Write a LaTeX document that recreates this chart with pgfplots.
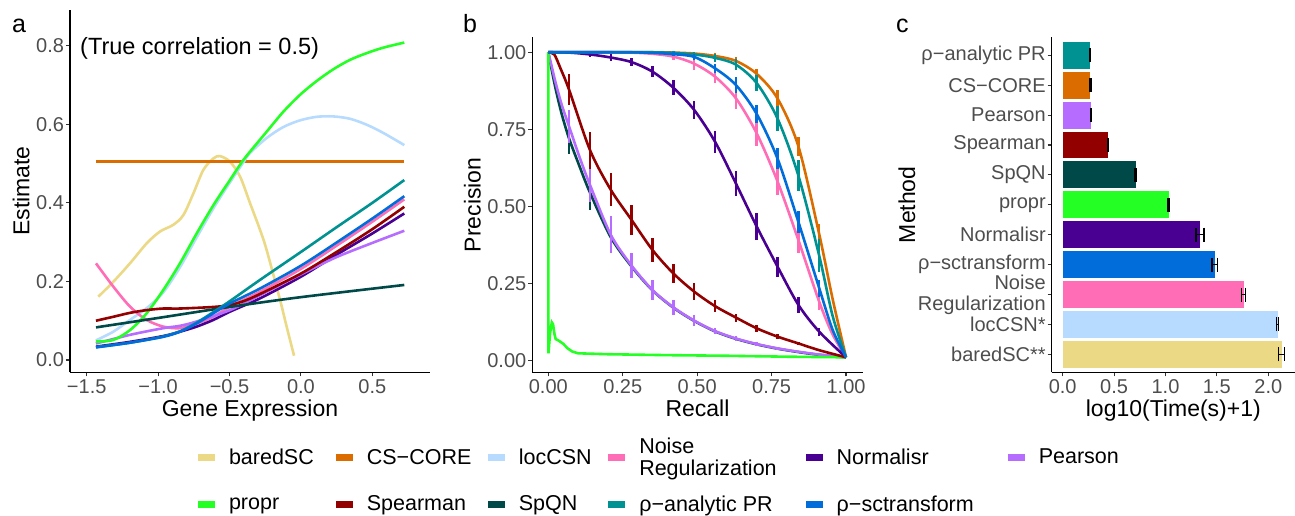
\documentclass[border=0pt]{standalone}
\usepackage{fontspec}
\setmainfont{Liberation Sans}
\usepackage{pgfplots}
\pgfplotsset{compat=1.18}
\usepackage{pgfplotstable}

\definecolor{cbared}{HTML}{EBD985}
\definecolor{ccscore}{HTML}{DB6D00}
\definecolor{cloccsn}{HTML}{B6DBFF}
\definecolor{cnoise}{HTML}{FF6DB6}
\definecolor{cnorm}{HTML}{490092}
\definecolor{cpearson}{HTML}{B66DFF}
\definecolor{cpropr}{HTML}{24FF24}
\definecolor{cspear}{HTML}{920000}
\definecolor{cspqn}{HTML}{004949}
\definecolor{canal}{HTML}{009292}
\definecolor{csct}{HTML}{006DDB}
\definecolor{tickgray}{HTML}{4D4D4D}

\newcommand\tickfont{\fontsize{20bp}{21.3bp}\selectfont}
\newcommand\titlefont{\fontsize{23bp}{27bp}\selectfont}
\newcommand\letfont{\fontsize{25bp}{30bp}\selectfont}
\newcommand\legfont{\fontsize{21.5bp}{21.5bp}\selectfont}
\newcommand\annfont{\fontsize{23.5bp}{28bp}\selectfont}

\pgfplotsset{
  gg/.style={scale only axis, axis lines*=left,
    axis line style={-, line width=1.1bp, black},
    tick align=outside, major tick length=4bp,
    tick style={line width=1.1bp, color=black!80},
    ticklabel style={font=\tickfont, text=tickgray},
    yticklabel style={xshift=1.5bp},
    every axis plot/.append style={line width=2.6bp}},
  eb/.style={/pgfplots/error bars/y dir=both, /pgfplots/error bars/y explicit,
    /pgfplots/error bars/error mark=none,
    /pgfplots/error bars/error bar style={line width=2.5bp}},
  ebx/.style={/pgfplots/error bars/x dir=both, /pgfplots/error bars/x explicit,
    /pgfplots/error bars/error mark=|,
    /pgfplots/error bars/error bar style={draw=black, line width=1.4bp},
    /pgfplots/error bars/error mark options={draw=black, line width=1.4bp, mark size=7bp}},
}

\begin{document}
\begin{tikzpicture}
\path[use as bounding box] (0,0) rectangle (1295bp,516bp);

% ---------------- panel a ----------------
\begin{axis}[gg, at={(70bp,143.7bp)}, anchor=south west,
  width=360bp, height=362.3bp,
  xmin=-1.617, xmax=0.904, ymin=-0.0313, ymax=0.8909,
  xtick={-1.5,-1,-0.5,0,0.5}, xticklabels={−1.5,−1.0,−0.5,0.0,0.5},
  ytick={0,0.2,0.4,0.6,0.8}, yticklabels={0.0,0.2,0.4,0.6,0.8}]
\addplot[cbared, smooth] table {
-1.419 0.161
-1.314 0.199
-1.197 0.246
-1.08 0.297
-0.987 0.327
-0.894 0.344
-0.823 0.369
-0.753 0.424
-0.683 0.484
-0.613 0.513
-0.567 0.519
-0.497 0.505
-0.426 0.467
-0.356 0.399
-0.286 0.331
-0.24 0.280
-0.146 0.153
-0.1 0.085
-0.048 0.011
};
\addplot[ccscore] table {
-1.435 0.506
0.724 0.506
};
\addplot[cloccsn, smooth] table {
-1.435 0.05
-1.314 0.072
-1.197 0.102
-1.08 0.132
-0.964 0.172
-0.847 0.236
-0.730 0.312
-0.613 0.386
-0.497 0.452
-0.403 0.503
-0.356 0.527
-0.24 0.565
-0.123 0.593
-0.006 0.610
0.110 0.619
0.227 0.620
0.344 0.614
0.460 0.599
0.577 0.578
0.724 0.547
};
\addplot[cnoise, smooth] table {
-1.435 0.246
-1.314 0.187
-1.197 0.136
-1.08 0.102
-0.964 0.085
-0.847 0.081
-0.730 0.093
-0.613 0.110
-0.497 0.136
-0.286 0.174
0 0.232
0.25 0.291
0.5 0.352
0.724 0.409
};
\addplot[cnorm, smooth] table {
-1.435 0.034
-1.2 0.046
-0.964 0.061
-0.847 0.072
-0.73 0.085
-0.613 0.102
-0.497 0.123
-0.286 0.157
0 0.212
0.25 0.268
0.5 0.322
0.724 0.373
};
\addplot[cpearson, smooth] table {
-1.435 0.042
-1.197 0.064
-0.964 0.081
-0.847 0.087
-0.73 0.098
-0.497 0.127
-0.286 0.165
0 0.218
0.25 0.262
0.5 0.298
0.724 0.329
};
\addplot[cpropr, smooth] table {
-1.435 0.047
-1.314 0.051
-1.197 0.076
-1.08 0.119
-0.964 0.178
-0.847 0.246
-0.730 0.322
-0.613 0.394
-0.497 0.458
-0.403 0.509
-0.286 0.561
-0.24 0.581
-0.123 0.632
-0.006 0.675
0.110 0.710
0.227 0.740
0.344 0.764
0.460 0.781
0.577 0.795
0.724 0.808
};
\addplot[cspear, smooth] table {
-1.435 0.1
-1.314 0.110
-1.197 0.120
-1.08 0.127
-0.964 0.131
-0.847 0.131
-0.613 0.135
-0.497 0.140
-0.4 0.150
-0.286 0.168
0 0.22
0.25 0.275
0.5 0.333
0.724 0.390
};
\addplot[cspqn, smooth] table {
-1.435 0.083
-1.0 0.107
-0.5 0.135
0 0.160
0.724 0.191
};
\addplot[canal, smooth] table {
-1.435 0.033
-1.197 0.044
-0.964 0.060
-0.847 0.073
-0.73 0.095
-0.613 0.122
-0.497 0.150
-0.286 0.204
0 0.275
0.25 0.338
0.5 0.40
0.724 0.458
};
\addplot[csct, smooth] table {
-1.435 0.032
-1.197 0.044
-0.964 0.059
-0.847 0.072
-0.73 0.093
-0.613 0.119
-0.497 0.144
-0.286 0.182
0 0.24
0.25 0.299
0.5 0.36
0.724 0.417
};
\end{axis}

% ---------------- panel b ----------------
\begin{axis}[gg, at={(532.3bp,143.7bp)}, anchor=south west,
  width=330.4bp, height=335bp,
  xmin=-0.0537, xmax=1.056, ymin=-0.0376, ymax=1.0486,
  xtick={0,0.25,0.5,0.75,1}, xticklabels={0.00,0.25,0.50,0.75,1.00},
  ytick={0,0.25,0.5,0.75,1}, yticklabels={0.00,0.25,0.50,0.75,1.00}]
\addplot[ccscore, smooth, eb] table[x=x,y=y,y error=e] {
x y e
0 1 0
0.07 1 0
0.14 1 0
0.21 1 0
0.28 1 0
0.35 1 0
0.42 0.999 0
0.49 0.996 0.006
0.56 0.988 0.01
0.63 0.972 0.012
0.70 0.93 0.015
0.77 0.85 0.028
0.84 0.695 0.03
0.91 0.41 0.032
0.955 0.20 0
1.0 0.011 0
};
\addplot[cnoise, smooth, eb] table[x=x,y=y,y error=e] {
x y e
0 1 0
0.07 1 0
0.14 1 0
0.21 1 0
0.28 0.999 0.003
0.35 0.995 0.005
0.42 0.986 0.01
0.49 0.963 0.02
0.56 0.921 0.022
0.63 0.851 0.035
0.70 0.737 0.04
0.77 0.581 0.043
0.84 0.391 0.043
0.91 0.191 0.027
0.955 0.085 0
1.0 0.011 0
};
\addplot[cnorm, smooth, eb] table[x=x,y=y,y error=e] {
x y e
0 1 0
0.07 0.999 0.003
0.14 0.993 0.008
0.21 0.983 0.01
0.28 0.968 0.013
0.35 0.937 0.018
0.42 0.885 0.025
0.49 0.813 0.03
0.56 0.71 0.036
0.63 0.575 0.04
0.70 0.435 0.043
0.77 0.305 0.032
0.84 0.181 0.025
0.91 0.094 0.013
1.0 0.011 0
};
\addplot[cspqn, smooth, eb] table[x=x,y=y,y error=e] {
x y e
0 1 0
0.01 0.95 0
0.025 0.88 0
0.045 0.80 0
0.07 0.72 0.05
0.105 0.63 0
0.14 0.545 0.055
0.21 0.40 0.02
0.28 0.305 0
0.35 0.228 0
0.42 0.172 0
0.49 0.129 0
0.56 0.095 0
0.63 0.071 0
0.70 0.053 0
0.77 0.039 0
0.84 0.028 0
0.91 0.019 0
1.0 0.011 0
};
\addplot[cpearson, smooth, eb] table[x=x,y=y,y error=e] {
x y e
0 1 0
0.01 0.96 0
0.025 0.9 0
0.045 0.83 0
0.07 0.759 0.054
0.105 0.66 0
0.14 0.57 0.054
0.21 0.408 0.06
0.28 0.308 0.04
0.35 0.229 0.032
0.42 0.173 0.024
0.49 0.13 0.019
0.56 0.096 0.011
0.63 0.072 0.008
0.70 0.054 0.006
0.77 0.04 0.004
0.84 0.029 0
0.91 0.02 0
1.0 0.011 0
};
\addplot[cpropr] table {
0 1
0.0005 0.024
0.006 0.09
0.012 0.124
0.016 0.118
0.021 0.085
0.025 0.07
0.035 0.065
0.05 0.055
0.065 0.04
0.08 0.03
0.1 0.024
0.2 0.021
0.4 0.018
0.6 0.016
0.8 0.013
1.0 0.011
};
\addplot[cspear, smooth, eb] table[x=x,y=y,y error=e] {
x y e
0 1 0
0.02 0.993 0
0.04 0.95 0
0.07 0.878 0.05
0.14 0.683 0.06
0.21 0.554 0.054
0.28 0.456 0.049
0.35 0.359 0.04
0.42 0.283 0.032
0.49 0.224 0.027
0.56 0.177 0.02
0.63 0.14 0.013
0.70 0.105 0.011
0.77 0.078 0.008
0.84 0.056 0.006
0.91 0.034 0.004
1.0 0.011 0
};
\addplot[canal, smooth, eb] table[x=x,y=y,y error=e] {
x y e
0 1 0
0.07 1 0
0.14 1 0
0.21 1 0
0.28 1 0
0.35 1 0
0.42 0.998 0.005
0.49 0.993 0.007
0.56 0.982 0.012
0.63 0.96 0.018
0.70 0.90 0.025
0.77 0.785 0.04
0.84 0.60 0.05
0.91 0.34 0.054
0.955 0.145 0
1.0 0.011 0
};
\addplot[csct, smooth, eb] table[x=x,y=y,y error=e] {
x y e
0 1 0
0.07 1 0
0.14 1 0
0.21 1 0
0.28 1 0
0.35 0.998 0.004
0.42 0.994 0.006
0.49 0.985 0.01
0.56 0.948 0.015
0.63 0.894 0.025
0.70 0.80 0.03
0.77 0.655 0.035
0.84 0.45 0.035
0.91 0.235 0.027
0.955 0.10 0
1.0 0.011 0
};
\end{axis}

% ---------------- panel c ----------------
\begin{axis}[gg, at={(1051.7bp,143.7bp)}, anchor=south west,
  width=243.3bp, height=335bp,
  xbar, bar width=0.9, bar shift=0pt,
  xmin=-0.107, xmax=2.26, ymin=0.4, ymax=11.6,
  xtick={0,0.5,1,1.5,2}, xticklabels={0.0,0.5,1.0,1.5,2.0},
  ytick={1,...,11},
  yticklabels={baredSC**,locCSN*,{Noise\\Regularization},ρ−sctransform,Normalisr,propr,SpQN,Spearman,Pearson,CS−CORE,ρ−analytic PR},
  yticklabel style={align=right}]
\addplot[draw=none, fill=cbared, ebx] coordinates {(2.13,1) +- (0.03,0)};
\addplot[draw=none, fill=cloccsn, ebx] coordinates {(2.09,2) +- (0.01,0)};
\addplot[draw=none, fill=cnoise, ebx] coordinates {(1.76,3) +- (0.02,0)};
\addplot[draw=none, fill=csct, ebx] coordinates {(1.478,4) +- (0.025,0)};
\addplot[draw=none, fill=cnorm, ebx] coordinates {(1.335,5) +- (0.04,0)};
\addplot[draw=none, fill=cpropr, ebx] coordinates {(1.03,6) +- (0.005,0)};
\addplot[draw=none, fill=cspqn, ebx] coordinates {(0.71,7) +- (0.008,0)};
\addplot[draw=none, fill=cspear, ebx] coordinates {(0.44,8) +- (0.005,0)};
\addplot[draw=none, fill=cpearson, ebx] coordinates {(0.276,9) +- (0.005,0)};
\addplot[draw=none, fill=ccscore, ebx] coordinates {(0.27,10) +- (0.005,0)};
\addplot[draw=none, fill=canal, ebx] coordinates {(0.266,11) +- (0.005,0)};
\end{axis}

% ---------------- legend ----------------
\begin{axis}[at={(0bp,0bp)}, anchor=south west, scale only axis,
  width=1295bp, height=516bp, xmin=0, xmax=1295, ymin=0, ymax=516,
  hide axis, legend columns=6, legend cell align=left,
  legend image code/.code={\fill[#1, draw=none] (0bp,-3.5bp) rectangle (17bp,3.5bp);},
  legend style={at={(198/1295,78/516)}, anchor=north west, draw=none, fill=none,
    inner sep=0pt, outer sep=0pt, row sep=19bp,
    nodes={font=\legfont, inner sep=0pt, align=left},
    /tikz/every odd column/.style={column sep=14bp},
    /tikz/column 2/.style={column sep=22bp},
    /tikz/column 4/.style={column sep=16.5bp},
    /tikz/column 6/.style={column sep=16.5bp},
    /tikz/column 8/.style={column sep=29bp},
    /tikz/column 10/.style={column sep=34bp}}]
\addlegendimage{fill=cbared}\addlegendentry{baredSC}
\addlegendimage{fill=ccscore}\addlegendentry{CS−CORE}
\addlegendimage{fill=cloccsn}\addlegendentry{locCSN}
\addlegendimage{fill=cnoise}\addlegendentry{Noise\\Regularization}
\addlegendimage{fill=cnorm}\addlegendentry{Normalisr}
\addlegendimage{fill=cpearson}\addlegendentry{Pearson}
\addlegendimage{fill=cpropr}\addlegendentry{propr}
\addlegendimage{fill=cspear}\addlegendentry{Spearman}
\addlegendimage{fill=cspqn}\addlegendentry{SpQN}
\addlegendimage{fill=canal}\addlegendentry{ρ−analytic PR}
\addlegendimage{fill=csct}\addlegendentry{ρ−sctransform}
\end{axis}

% ---------------- texts ----------------
\node[anchor=base west, font=\letfont, inner sep=0pt] at (12bp,483bp) {a};
\node[anchor=base west, font=\letfont, inner sep=0pt] at (463bp,483bp) {b};
\node[anchor=base west, font=\letfont, inner sep=0pt] at (896bp,483bp) {c};
\node[anchor=west, font=\annfont, inner sep=0pt] at (80bp,467.7bp) {(True correlation = 0.5)};
\node[rotate=90, anchor=base, font=\titlefont, inner sep=0pt] at (29.3bp,325bp) {Estimate};
\node[rotate=90, anchor=base, font=\titlefont, inner sep=0pt] at (480.7bp,311.2bp) {Precision};
\node[rotate=90, anchor=base, font=\titlefont, inner sep=0pt] at (915bp,311.2bp) {Method};
\node[anchor=base, font=\titlefont, inner sep=0pt] at (250bp,99.3bp) {Gene Expression};
\node[anchor=base, font=\titlefont, inner sep=0pt] at (697.5bp,99.3bp) {Recall};
\node[anchor=base, font=\titlefont, inner sep=0pt] at (1173.3bp,99.3bp) {log10(Time(s)+1)};
\end{tikzpicture}
\end{document}
